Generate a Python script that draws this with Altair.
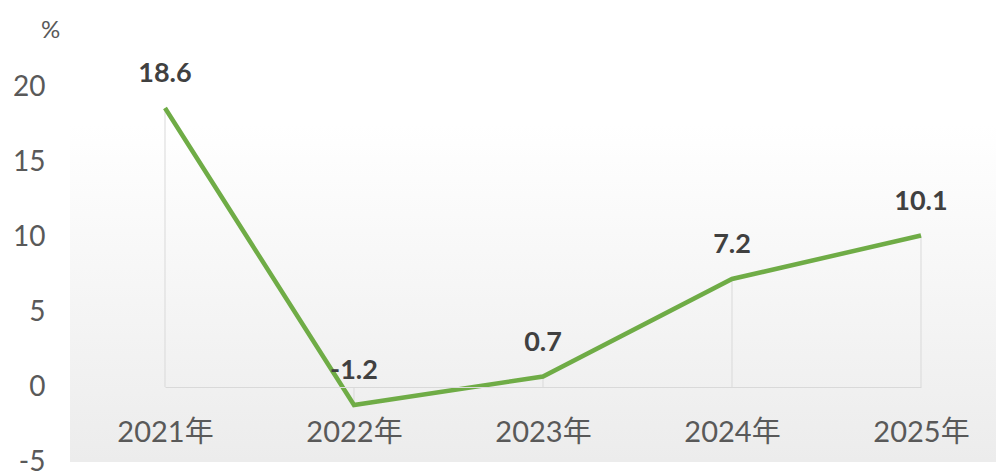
import altair as alt
import pandas as pd

years = ["2021年", "2022年", "2023年", "2024年", "2025年"]
values = [18.6, -1.2, 0.7, 7.2, 10.1]
y_ticks = [-5, 0, 5, 10, 15, 20]

df = pd.DataFrame({"year": years, "value": values})
df["label"] = [f"{v:.1f}" for v in values]
bg_df = pd.DataFrame({"a": [0]})

W, H = 926, 375
FONT = "Lato, Noto Sans CJK SC, sans-serif"

x_scale = alt.Scale(type="point", range=[95, 851], padding=0)
y_scale = alt.Scale(domain=[-5, 20], nice=False, zero=False)

x_enc = alt.X("year:N", sort=years, scale=x_scale,
              axis=alt.Axis(orient="bottom", offset=-75, domainColor="#d9d9d9",
                            domainWidth=1, ticks=False, labelPadding=31,
                            labelFontSize=29, labelColor="#595959", labelFont=FONT,
                            title=None, labelAngle=0, zindex=1, grid=False))
y_enc = alt.Y("value:Q", scale=y_scale,
              axis=alt.Axis(values=y_ticks, grid=False, domain=False, ticks=False,
                            labelPadding=25, labelFontSize=28, labelColor="#595959",
                            labelFont=FONT, labelFlush=False, labelOverlap=False,
                            labelExpr="toString(datum.value)",
                            title="%", titleAngle=0, titleAlign="center",
                            titleBaseline="middle", titleX=-20, titleY=-57,
                            titleFontSize=24, titleFontWeight="normal",
                            titleColor="#595959", titleFont=FONT))

grad = alt.LinearGradient(
    gradient="linear",
    stops=[alt.GradientStop(color="#ffffff", offset=0),
           alt.GradientStop(color="#ffffff", offset=0.1),
           alt.GradientStop(color="#ececec", offset=1)],
    x1=0, x2=0, y1=0, y2=1,
)

bg = alt.Chart(bg_df).mark_rect(fill=grad).encode(
    x=alt.value(0), x2=alt.value(W), y=alt.value(0), y2=alt.value(H)
)

base = alt.Chart(df)

rules = base.mark_rule(color="#d9d9d9", strokeWidth=1).encode(
    x=x_enc, y=y_enc, y2=alt.datum(0)
)

line = base.mark_line(color="#6fac46", strokeWidth=4.5).encode(x=x_enc, y=y_enc)

labels = base.mark_text(dy=-34, fontSize=27, fontWeight="bold", color="#404040",
                        font=FONT).encode(x=x_enc, y=y_enc, text="label:N")

chart = alt.layer(bg, rules, line, labels).properties(
    width=W, height=H,
    padding={"left": 62, "top": 79, "right": 0, "bottom": 11},
    autosize=alt.AutoSizeParams(type="none"),
    background="white",
).configure_view(stroke=None)

chart.save("out.html", embed_options={"renderer": "svg", "actions": False})
